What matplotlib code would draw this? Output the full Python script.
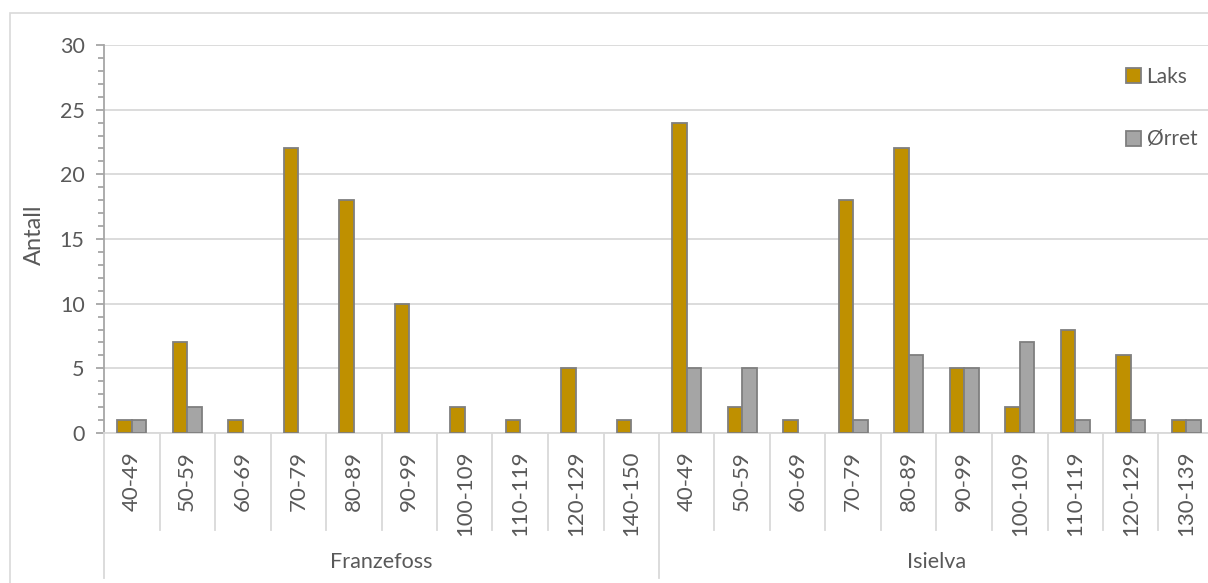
import matplotlib
matplotlib.use("Agg")
import matplotlib.pyplot as plt
import numpy as np
from matplotlib.patches import Patch, Rectangle
from matplotlib.lines import Line2D

plt.rcParams['font.family'] = ['Lato', 'DejaVu Sans']

groups = ["Franzefoss", "Isielva"]
franz_cats = ["40-49", "50-59", "60-69", "70-79", "80-89", "90-99", "100-109", "110-119", "120-129", "140-150"]
isi_cats = ["40-49", "50-59", "60-69", "70-79", "80-89", "90-99", "100-109", "110-119", "120-129", "130-139"]
franz_laks = [1, 7, 1, 22, 18, 10, 2, 1, 5, 1]
franz_orret = [1, 2, 0, 0, 0, 0, 0, 0, 0, 0]
isi_laks = [24, 2, 1, 18, 22, 5, 2, 8, 6, 1]
isi_orret = [5, 5, 0, 1, 6, 5, 7, 1, 1, 1]

categories = franz_cats + isi_cats
laks = franz_laks + isi_laks
orret = franz_orret + isi_orret

W, H = 1208, 583
fig = plt.figure(figsize=(W / 100, H / 100), dpi=100)

# outer border
fig.patches.append(Rectangle((10 / W, 0 - 0.01), 1.1, 1 - 13 / H + 0.01, transform=fig.transFigure,
                             fill=False, edgecolor='#d9d9d9', linewidth=1.2))

x0, x1 = 104, 1214
y0, y1 = 433, 45
ax = fig.add_axes([x0 / W, 1 - y0 / H, (x1 - x0) / W, (y0 - y1) / H])

n = len(categories)
x = np.arange(n)
bw = 0.26
txt = '#595959'
edge = '#7f7f7f'
c_laks = '#BF9000'
c_orr = '#A5A5A5'

lw_l = [1.3 if v > 0 else 0 for v in laks]
lw_o = [1.3 if v > 0 else 0 for v in orret]
ax.bar(x - bw / 2, laks, bw, color=c_laks, edgecolor=edge, linewidth=lw_l, zorder=3)
ax.bar(x + bw / 2, orret, bw, color=c_orr, edgecolor=edge, linewidth=lw_o, zorder=3)

ax.set_xlim(-0.5, n - 0.5)
ax.set_ylim(0, 30)
ax.set_yticks(np.arange(0, 31, 5))
ax.set_yticks(np.arange(0, 31, 1), minor=True)
ax.yaxis.grid(True, which='major', color='#d9d9d9', linewidth=1.3, zorder=0)
ax.set_axisbelow(True)
for s in ['top', 'right']:
    ax.spines[s].set_visible(False)
ax.spines['left'].set_color('#a6a6a6')
ax.spines['bottom'].set_color('#d9d9d9')
ax.spines['left'].set_linewidth(1.3)
ax.spines['bottom'].set_linewidth(1.3)
ax.tick_params(axis='y', which='major', length=6, color='#a6a6a6', width=1.3,
               labelsize=15.5, labelcolor=txt, pad=8)
ax.tick_params(axis='y', which='minor', length=4, color='#a6a6a6', width=1.3)
ax.set_xticks([])
fig.text(34 / W, 1 - 235 / H, "Antall", rotation=90, ha='center', va='center',
         fontsize=17, color=txt)

# category labels and separators
px = 388  # axis height in pixels
trans = ax.get_xaxis_transform()
for i, c in enumerate(categories):
    ax.text(i, -18 / px, c, rotation=90, ha='center', va='top', fontsize=16,
            color=txt, transform=trans)
for k in range(n + 1):
    xp = k - 0.5
    if k % 10 == 0:
        ylow = -(578 - 433) / px
    else:
        ylow = -(530 - 433) / px
    ax.add_line(Line2D([xp, xp], [0, ylow], transform=trans, color='#d9d9d9',
                       linewidth=1.3, clip_on=False))
for gi, g in enumerate(groups):
    ax.text(gi * 10 + 4.5, -(562 - 433) / px, g, ha='center', va='center',
            fontsize=15.5, color=txt, transform=trans)

handles = [Patch(facecolor=c_laks, edgecolor=edge, linewidth=1.3),
           Patch(facecolor=c_orr, edgecolor=edge, linewidth=1.3)]
leg = fig.legend(handles, ["Laks", "Ørret"], loc='upper left',
                 bbox_to_anchor=(1107 / W, 1 - 48 / H), frameon=False,
                 fontsize=15, labelspacing=2.05, handlelength=0.75, handleheight=0.75,
                 handletextpad=0.25)
for t in leg.get_texts():
    t.set_color(txt)

fig.savefig("out.png", dpi=100)
